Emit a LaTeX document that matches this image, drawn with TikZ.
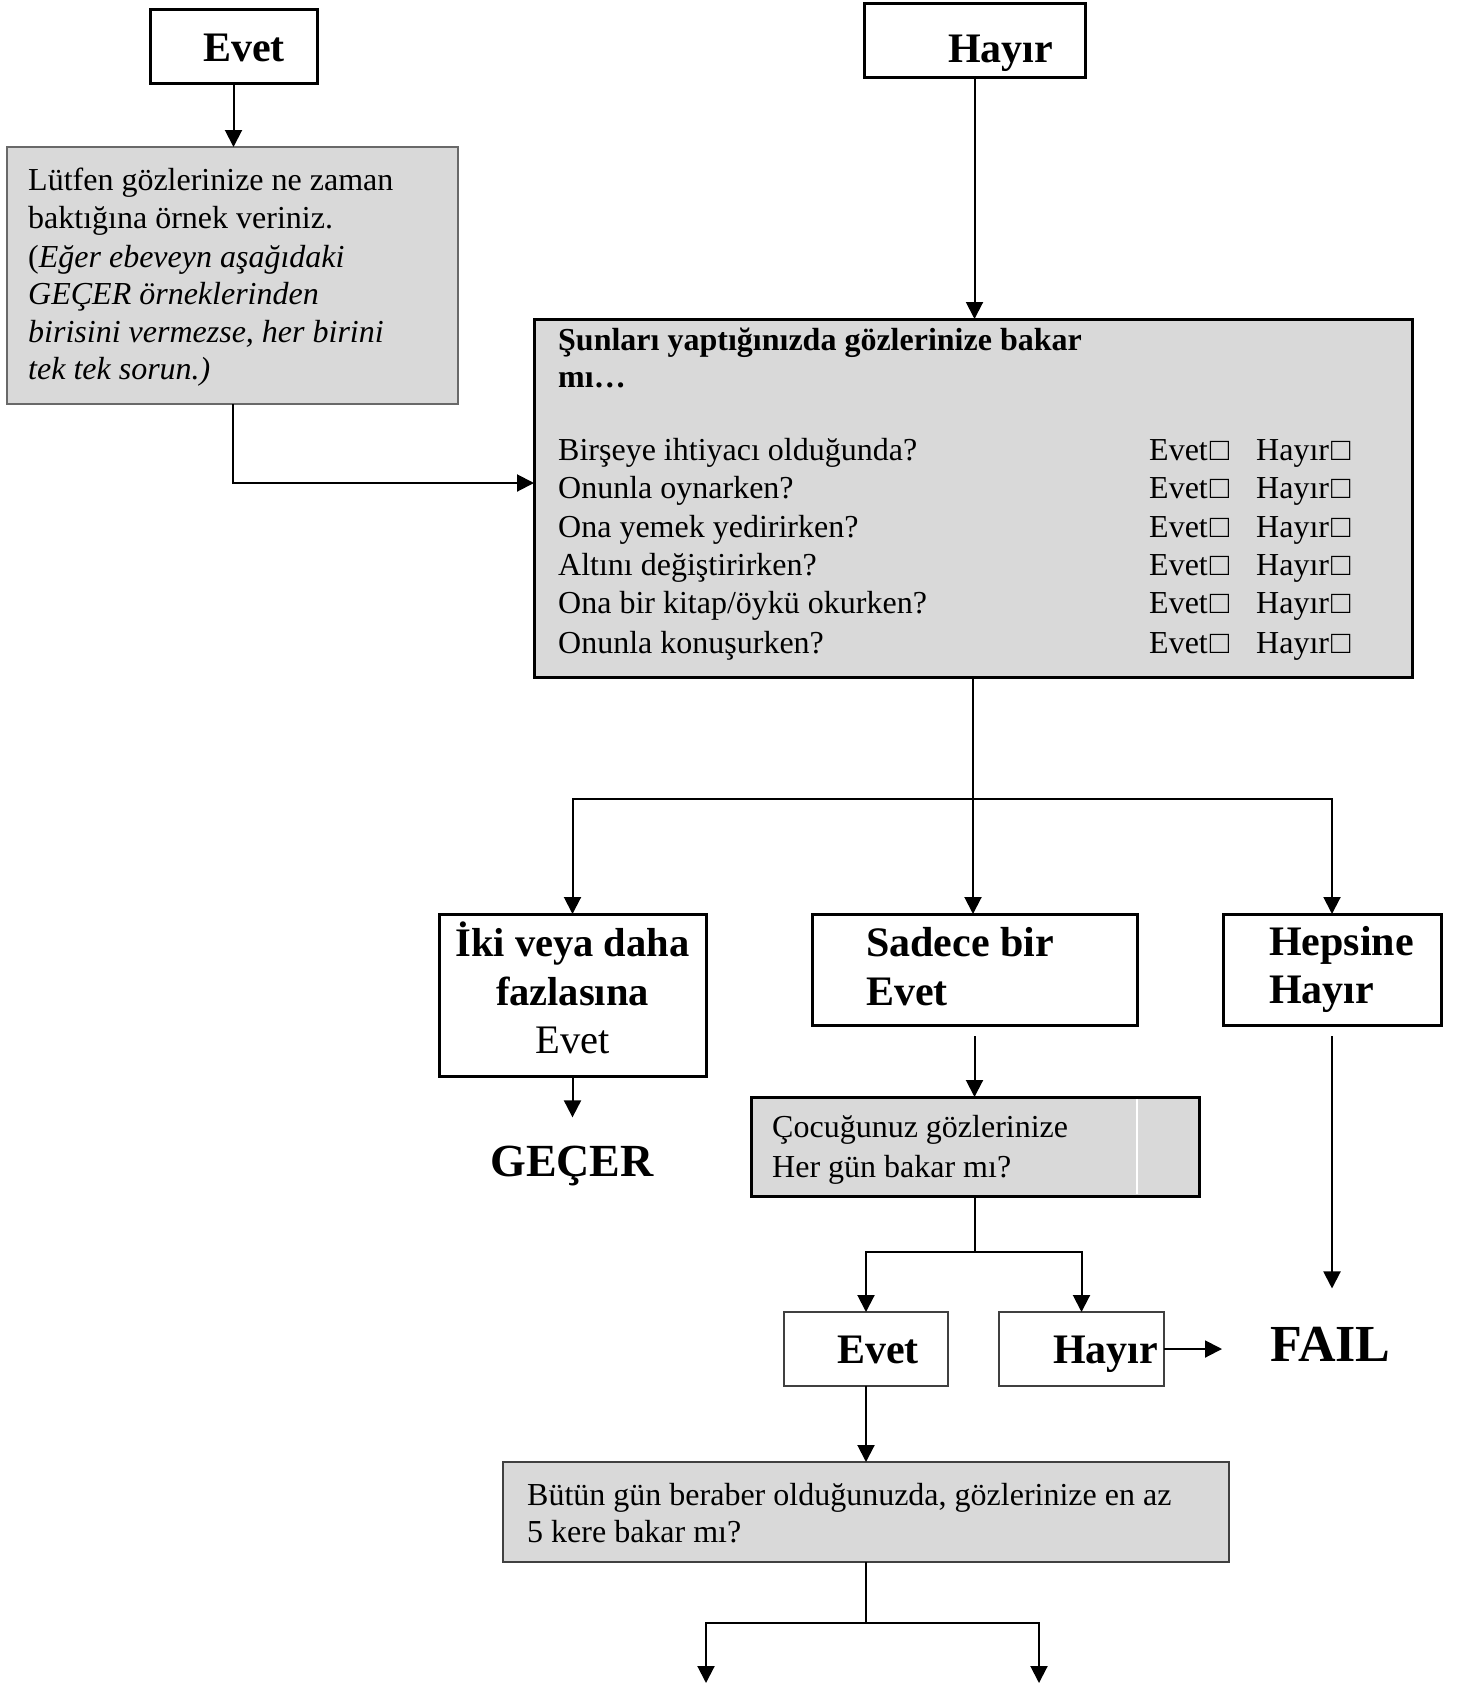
\documentclass[tikz,border=0pt]{standalone}
\usepackage{fontspec}
\setmainfont{Liberation Serif}
\usetikzlibrary{arrows.meta}
\definecolor{boxfill}{RGB}{217,217,217}
\definecolor{rimgray}{RGB}{105,105,105}
\definecolor{rimdark}{RGB}{64,64,64}
\newcommand\tick{\kern2pt□}
\begin{document}
\begin{tikzpicture}[x=1pt,y=-1pt,
  box/.style={draw, rectangle, inner sep=0pt, outer sep=0pt},
  heavybox/.style={box, line width=3pt, fill=white},
  shadebox/.style={box, line width=2pt, draw=rimgray, fill=boxfill},
  heavyshade/.style={box, line width=3pt, fill=boxfill},
  lightbox/.style={box, line width=2pt, draw=rimdark, fill=white},
  plain/.style={inner sep=0pt, anchor=base west, font=\fontsize{32}{38}\selectfont},
  strong/.style={inner sep=0pt, anchor=base west, font=\fontsize{42}{48}\selectfont\bfseries},
  mid/.style={inner sep=0pt, anchor=base, font=\fontsize{40.5}{48}\selectfont},
  link/.style={line width=2pt},
  arr/.style={line width=2pt, -{Triangle[length=17pt,width=17pt]}}
]
\useasboundingbox (0,0) rectangle (1457,1684);
\fill[white] (0,0) rectangle (1457,1684);

% ---- boxes ----
\node[heavybox, minimum width=167pt, minimum height=74pt] (evetT) at (233.5,46) {};
\node[heavybox, minimum width=221pt, minimum height=74pt] (hayirT) at (974.5,40) {};
\node[shadebox, minimum width=451pt, minimum height=257pt] (ask) at (232.5,275.5) {};
\node[heavyshade, minimum width=878pt, minimum height=358pt] (list) at (973,498) {};
\node[heavybox, minimum width=267pt, minimum height=162pt] (iki) at (572.5,995) {};
\node[heavybox, minimum width=325pt, minimum height=111pt] (tek) at (974.5,969.5) {};
\node[heavybox, minimum width=218pt, minimum height=111pt] (hic) at (1332,969.5) {};
\node[heavyshade, minimum width=448pt, minimum height=99pt] (daily) at (975,1146.5) {};
\draw[white, line width=1.2pt] (1137,1099) -- (1137,1194);
\node[lightbox, minimum width=164pt, minimum height=74pt] (evetB) at (866,1349) {};
\node[lightbox, minimum width=165pt, minimum height=74pt] (hayirB) at (1081.5,1349) {};
\node[shadebox, draw=rimdark, minimum width=726pt, minimum height=100pt] (five) at (866,1512) {};

% ---- texts ----
\node[strong] (evetTt) at (203,61) {Evet};
\node[strong] (hayirTt) at (948,62) {Hayır};

\node[plain] (a1) at (28,190) {Lütfen gözlerinize ne zaman};
\node[plain] (a2) at (28,228) {baktığına örnek veriniz.};
\node[plain] (a3) at (28,267) {(\textit{Eğer ebeveyn aşağıdaki}};
\node[plain] (a4) at (28,304) {\textit{GEÇER örneklerinden}};
\node[plain] (a5) at (28,342) {\textit{birisini vermezse, her birini}};
\node[plain] (a6) at (28,379) {\textit{tek tek sorun.)}};

\node[plain, font=\fontsize{32}{38}\selectfont\bfseries] (h1) at (558,350) {Şunları yaptığınızda gözlerinize bakar};
\node[plain, font=\fontsize{32}{38}\selectfont\bfseries] (h2) at (558,387) {mı…};

\node[plain] (q1) at (558,460) {Birşeye ihtiyacı olduğunda?};
\node[plain] (q2) at (558,498) {Onunla oynarken?};
\node[plain] (q3) at (558,537) {Ona yemek yedirirken?};
\node[plain] (q4) at (558,575) {Altını değiştirirken?};
\node[plain] (q5) at (558,613) {Ona bir kitap/öykü okurken?};
\node[plain] (q6) at (558,653) {Onunla konuşurken?};
\node[plain] (e1) at (1149,460) {Evet\tick};
\node[plain] (e2) at (1149,498) {Evet\tick};
\node[plain] (e3) at (1149,537) {Evet\tick};
\node[plain] (e4) at (1149,575) {Evet\tick};
\node[plain] (e5) at (1149,613) {Evet\tick};
\node[plain] (e6) at (1149,653) {Evet\tick};
\node[plain] (n1) at (1256,460) {Hayır\tick};
\node[plain] (n2) at (1256,498) {Hayır\tick};
\node[plain] (n3) at (1256,537) {Hayır\tick};
\node[plain] (n4) at (1256,575) {Hayır\tick};
\node[plain] (n5) at (1256,613) {Hayır\tick};
\node[plain] (n6) at (1256,653) {Hayır\tick};

\node[mid, font=\fontsize{40.5}{48}\selectfont\bfseries] (ik1) at (572.5,956) {İki veya daha};
\node[mid, font=\fontsize{40.5}{48}\selectfont\bfseries] (ik2) at (572.5,1005) {fazlasına};
\node[mid] (ik3) at (572.5,1053) {Evet};

\node[strong] (tk1) at (866,956) {Sadece bir};
\node[strong] (tk2) at (866,1005) {Evet};
\node[strong] (hc1) at (1269,955) {Hepsine};
\node[strong] (hc2) at (1269,1003) {Hayır};

\node[inner sep=0pt, anchor=base, font=\fontsize{46}{52}\selectfont\bfseries] (pass) at (572,1176) {GEÇER};

\node[plain] (d1) at (772,1137) {Çocuğunuz gözlerinize};
\node[plain] (d2) at (772,1177) {Her gün bakar mı?};

\node[strong] (evetBt) at (837,1363) {Evet};
\node[strong] (hayirBt) at (1053,1363) {Hayır};

\node[inner sep=0pt, anchor=base west, font=\fontsize{52}{58}\selectfont\bfseries] (fail) at (1270,1361) {FAIL};

\node[plain] (f1) at (527,1505) {Bütün gün beraber olduğunuzda, gözlerinize en az};
\node[plain] (f2) at (527,1542) {5 kere bakar mı?};

% ---- connectors ----
\draw[arr] (evetT.south) -- (evetT.south |- ask.north);
\draw[arr] (hayirT.south) -- (hayirT.south |- list.north);
\draw[arr] (ask.south) |- ([yshift=15pt]list.west);

\coordinate (split) at (973,799);
\draw[arr] (list.south) -- (list.south |- tek.north);
\draw[arr] (split) -| (iki.north);
\draw[arr] (split) -| (hic.north);

\draw[arr, shorten >=28pt] (iki.south) -- (iki.south |- pass.north);
\draw[arr, shorten <=11pt] (tek.south) -- (tek.south |- daily.north);
\draw[arr, shorten <=11pt, shorten >=38pt] (hic.south) -- (hic.south |- fail.north);

\coordinate (split2) at (975,1252);
\draw[link] (daily.south) -- (split2);
\draw[arr] (split2) -| (evetB.north);
\draw[arr] (split2) -| (hayirB.north);
\draw[arr, shorten >=48pt] (hayirB.east) -- (fail.west |- hayirB.east);

\draw[arr] (evetB.south) -- (evetB.south |- five.north);

\coordinate (split3) at (866,1623);
\coordinate (outL) at (706,1683);
\coordinate (outR) at (1039,1683);
\draw[link] (five.south) -- (split3);
\draw[arr] (split3) -| (outL);
\draw[arr] (split3) -| (outR);
\end{tikzpicture}
\end{document}
